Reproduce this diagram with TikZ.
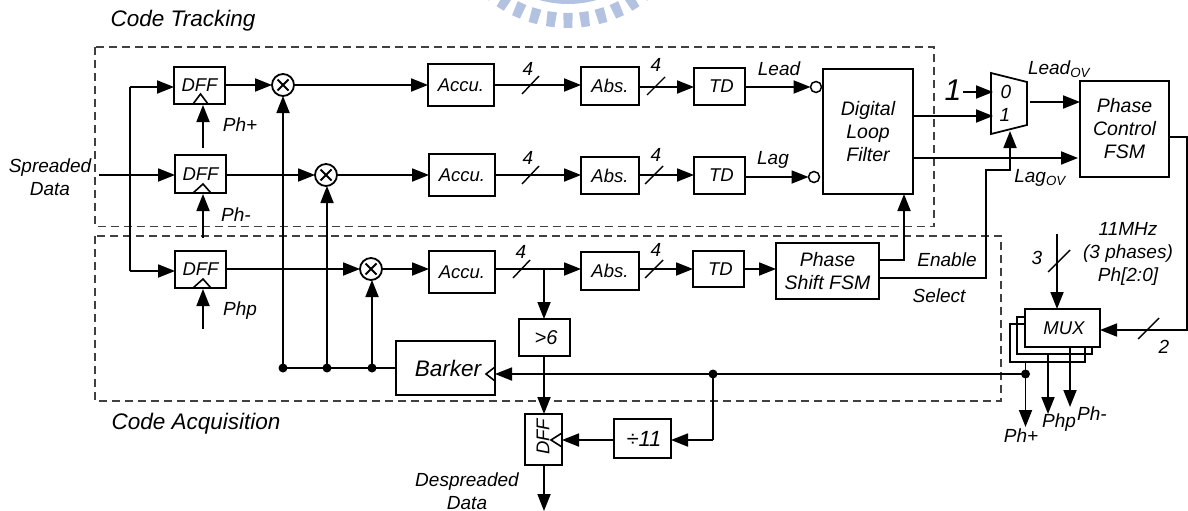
\documentclass[tikz,border=0pt]{standalone}
\usepackage{fontspec}
\setmainfont{Liberation Sans}
\usetikzlibrary{arrows.meta,calc}
\definecolor{wm}{HTML}{B2C2E0}
\tikzset{
  wire/.style={line width=1.8pt},
  arr/.style={wire,-{Triangle[length=17pt,width=13pt]}},
  blk/.style={draw,line width=1.8pt,inner sep=0pt,outer sep=0pt,align=center,font=\fontsize{18.5}{23}\selectfont\itshape},
  lbl/.style={inner sep=0pt,outer sep=0pt,align=center,font=\fontsize{19}{23}\selectfont\itshape},
  slashmark/.style={line width=1.4pt},
  dashbox/.style={line width=1.2pt,draw=black!75,dash pattern=on 8pt off 5pt},
  mult/.style={circle,draw,line width=1.8pt,minimum size=22pt,inner sep=0pt,outer sep=0pt,
    path picture={\draw[line width=1.8pt] ($(path picture bounding box.center)+(-5.5,-5.5)$) -- ($(path picture bounding box.center)+(5.5,5.5)$);
    \draw[line width=1.8pt] ($(path picture bounding box.center)+(-5.5,5.5)$) -- ($(path picture bounding box.center)+(5.5,-5.5)$);}},
  inv/.style={circle,draw,line width=1.5pt,minimum size=11pt,inner sep=0pt,outer sep=0pt},
  dotn/.style={circle,fill,minimum size=9pt,inner sep=0pt,outer sep=0pt},
  ck/.style={line width=1.6pt,line join=miter}
}
\newcommand\bx[6]{\node[blk,minimum width={(#4-#2)*1pt},minimum height={(#5-#3)*1pt}] (#1) at ({(#2+#4)/2},{(#3+#5)/2}) {#6};}
\newcommand\lb[4][]{\node[lbl,#1] (#2) at (#3) {#4};}
\begin{document}
\begin{tikzpicture}[x=1pt,y=-1pt]
\useasboundingbox (0,0) rectangle (1188,511);
\fill[white] (0,0) rectangle (1188,511);
% watermark
\begin{scope}
\clip (0,0) rectangle (1188,511);
\foreach \a in {-40,-32,...,40.1}{
  \fill[wm] ({568+113*sin(\a-2.4)},{-100+113*cos(\a-2.4)}) -- ({568+113*sin(\a+2.4)},{-100+113*cos(\a+2.4)})
   -- ({568+128*sin(\a+1.9)},{-100+128*cos(\a+1.9)}) -- ({568+128*sin(\a-1.9)},{-100+128*cos(\a-1.9)}) -- cycle;
}
\draw[wm,line width=6pt] (568,-100) circle[radius=101];
\end{scope}
% dashed regions
\draw[dashbox] (95,47) rectangle (934,226.5);
\draw[dashbox] (95,236) rectangle (1001,401);
\lb{t1}{183,21}{\fontsize{22.5}{26}\selectfont Code Tracking}
\lb{t2}{196,424}{\fontsize{22.5}{26}\selectfont Code Acquisition}
% blocks
\bx{dff1}{174}{67}{225}{104}{DFF}
\bx{dff2}{175}{155}{226}{193}{DFF}
\bx{dff3}{175}{251}{226}{288}{DFF}
\bx{acc1}{428}{64}{494}{106}{Accu.}
\bx{acc2}{429}{154}{495}{196}{Accu.}
\bx{acc3}{429}{251}{495}{293}{Accu.}
\bx{abs1}{581}{67}{639}{105}{Abs.}
\bx{abs2}{581}{157}{639}{194}{Abs.}
\bx{abs3}{581}{252}{639}{290}{Abs.}
\bx{td1}{694}{68}{745}{105}{\hspace{4pt}TD}
\bx{td2}{694}{157}{745}{194}{\hspace{4pt}TD}
\bx{td3}{693}{251}{744}{287}{\hspace{4pt}TD}
\bx{dlf}{823}{69}{913}{194}{\fontsize{19.5}{23}\selectfont Digital\\\fontsize{19.5}{23}\selectfont Loop\\\fontsize{19.5}{23}\selectfont Filter}
\bx{fsm}{1080}{81}{1169}{177}{\fontsize{19.5}{23}\selectfont Phase\\\fontsize{19.5}{23}\selectfont Control\\\fontsize{19.5}{23}\selectfont FSM}
\bx{psf}{776}{243}{879}{299}{\fontsize{19.5}{23}\selectfont Phase\\\fontsize{19.5}{23}\selectfont Shift FSM}
\bx{gt}{519}{319}{570}{356}{\hspace{3pt}\fontsize{20}{23}\selectfont >6}
\bx{bark}{396}{341}{495}{395}{\hspace{5pt}\fontsize{22.5}{26}\selectfont Barker}
\bx{dff4}{525}{414}{562}{465}{}
\node[lbl,font=\fontsize{18.5}{23}\selectfont\itshape,rotate=90] (dff4t) at (543,437) {DFF};
\bx{div}{614}{419}{671}{458}{\hspace{3pt}\fontsize{22}{26}\selectfont ÷11}
\bx{mxc}{1010}{324}{1085}{362}{}
\bx{mxb}{1017}{317}{1092}{354}{}
\node[blk,fill=white,minimum width=75pt,minimum height=38pt] (mxa) at (1062.5,328) {\hspace{3pt}MUX};
% multipliers and inverters
\node[mult] (m1) at (283,85) {};
\node[mult] (m2) at (326,175) {};
\node[mult] (m3) at (371,269) {};
\node[inv] (i1) at (816,87) {};
\node[inv] (i2) at (814,177) {};
% clock triangles
\draw[ck] (193,104) -- (200.5,94) -- (208,104);
\draw[ck] (193,193) -- (203,184) -- (211,193);
\draw[ck] (193,288) -- (203,279) -- (211,288);
\draw[ck] (495,367) -- (486,374) -- (495,381);
\draw[ck] (562,433) -- (551,440) -- (562,447);
% mux
\coordinate (mxnw) at (991,73);
\coordinate (mxne) at (1027,82);
\coordinate (mxse) at (1027,125);
\coordinate (mxsw) at (991,134);
\draw[wire,line join=miter] (mxnw) -- (mxne) -- (mxse) -- (mxsw) -- cycle;
\lb{mz}{1006,92}{0}
\lb{mo}{1005,115}{1}
\lb{one}{953,90}{\fontsize{30}{30}\selectfont 1}
% free ends and junctions
\coordinate (spin) at (99,175);
\coordinate (bust) at (130,87);
\coordinate (busb) at (130,271);
\coordinate (phpa) at (203,148);
\coordinate (phma) at (203,238);
\coordinate (phpc) at (203,329);
\node[dotn] (d1) at (283,368) {};
\node[dotn] (d2) at (327,368) {};
\node[dotn] (d3) at (372,368) {};
\node[dotn] (d4) at (713,374) {};
\node[dotn] (d5) at (1025.5,374) {};
\coordinate (j3) at (544,269);
% input bus
\draw[arr] (spin) -- (spin -| dff2.west);
\draw[wire] (busb) -- (bust);
\draw[arr] (bust) -- (bust -| dff1.west);
\draw[arr] (busb) -- (busb -| dff3.west);
% phase inputs
\draw[arr] (phpa) -- (203,105);
\draw[arr] (phma) -- (203,194);
\draw[arr] (phpc) -- (203,289);
% data rows
\draw[arr] (dff1.east |- m1) -- (m1.west);
\draw[arr] (dff2.east |- m2) -- (m2.west);
\draw[arr] (dff3.east |- m3) -- (m3.west);
\draw[arr] (m1.east) -- (acc1.west |- m1);
\draw[arr] (m2.east) -- (acc2.west |- m2);
\draw[arr] (m3.east) -- (acc3.west |- m3);
\draw[arr] (acc1.east |- m1) -- (abs1.west |- m1);
\draw[arr] (acc2.east |- m2) -- (abs2.west |- m2);
\draw[arr] (acc3.east |- m3) -- (abs3.west |- m3);
\draw[arr] (abs1.east |- i1) -- (td1.west |- i1);
\draw[arr] (abs2.east |- m2) -- (td2.west |- m2);
\draw[arr] (abs3.east |- m3) -- (td3.west |- m3);
\draw[arr] (td1.east |- i1) -- (i1.west);
\draw[arr] (td2.east |- i2) -- (i2.west);
\draw[arr] (td3.east |- m3) -- (psf.west |- m3);
% bus slashes
\draw[slashmark] (522,94) -- (539,76);
\draw[slashmark] (647,95) -- (665,77);
\draw[slashmark] (522,184) -- (539,166);
\draw[slashmark] (645,184) -- (663,166);
\draw[slashmark] (513,278) -- (530,260);
\draw[slashmark] (645,278) -- (663,260);
\lb{n1}{528,69}{4}
\lb{n2}{656,65}{4}
\lb{n3}{528,158}{4}
\lb{n4}{656,155}{4}
\lb{n5}{521,252}{4}
\lb{n6}{656,250}{4}
% multiplier feeds
\draw[arr] (d1.center) -- (m1.south);
\draw[arr] (d2.center) -- (m2.south -| d2);
\draw[arr] (d3.center) -- (m3.south -| d3);
\draw[wire] (d1.center) -- (d3.center) -- (d3 -| bark.west);
% detector branch
\draw[arr] (j3) -- (gt.north -| j3);
\draw[arr] (gt.south -| j3) -- (dff4.north -| j3);
\coordinate (dout) at (544,511);
\draw[arr] (dff4.south -| j3) -- (dout);
% clock lines
\draw[arr] (d5.center) -- (bark.east |- d5);
\coordinate (divc) at (713,440);
\draw[wire] (d4.center) -- (divc);
\draw[arr] (divc) -- (div.east |- divc);
\draw[arr] (div.west |- divc) -- (dff4.east |- divc);
% filter and FSM
\coordinate (psa) at (904,260);
\draw[arr] (psf.east |- psa) -- (psa) -- (psa |- dlf.south);
\coordinate (sela) at (986,278);
\coordinate (selb) at (986,170);
\coordinate (selc) at (1010,170);
\coordinate (seld) at (1010,131);
\draw[arr] (psf.east |- sela) -- (sela) -- (selb) -- (selc) -- (seld);
\coordinate (onee) at (963,92);
\coordinate (mxi0) at (993,92);
\coordinate (mxi1) at (993,116);
\coordinate (mxo) at (1030,102);
\draw[arr] (onee) -- (mxi0);
\draw[arr] (dlf.east |- mxi1) -- (mxi1);
\draw[arr] (mxo) -- (fsm.west |- mxo);
\coordinate (lagl) at (1078,158);
\draw[arr] (dlf.east |- lagl) -- (lagl);
\coordinate (fa) at (1187.2,137);
\coordinate (fb) at (1187.2,330);
\draw[arr] (fsm.east |- fa) -- (fa) -- (fb) -- (mxa.east |- fb);
\draw[slashmark] (1138,339) -- (1159,318);
\lb{n7}{1164,347}{2}
% phase clock input
\coordinate (ckin) at (1057,234);
\draw[arr] (ckin) -- (mxa.north -| ckin);
\draw[slashmark] (1048,272) -- (1070,250);
\lb{n8}{1037,258}{3}
% mux outputs
\coordinate (oa) at (1025.5,427);
\coordinate (ob) at (1048,414);
\coordinate (oc) at (1070,407);
\draw[arr] (mxc.south -| oa) -- (oa);
\draw[arr] (mxb.south -| ob) -- (ob);
\draw[arr] (mxa.south -| oc) -- (oc);
% labels
\lb{sd}{50,177}{Spreaded\\Data}
\lb{lpp}{240,125}{Ph+}
\lb{lpm}{236,215}{Ph-}
\lb{lpc}{240,311}{Php}
\lb{lead}{779,69}{Lead}
\lb{lag}{773,160}{Lag}
\lb{ldo}{1059,69}{Lead\textsubscript{OV}}
\lb{lgo}{1040,178}{Lag\textsubscript{OV}}
\lb{en}{947,260}{Enable}
\lb{sel}{939,296}{Select}
\lb{mhz}{1128,253.5}{11MHz\\(3 phases)\\Ph[2:0]}
\lb{dd}{467,491}{Despreaded\\Data}
\lb{opp}{1021,436}{Ph+}
\lb{opc}{1059,423}{Php}
\lb{opm}{1092,414}{Ph-}
\end{tikzpicture}
\end{document}
